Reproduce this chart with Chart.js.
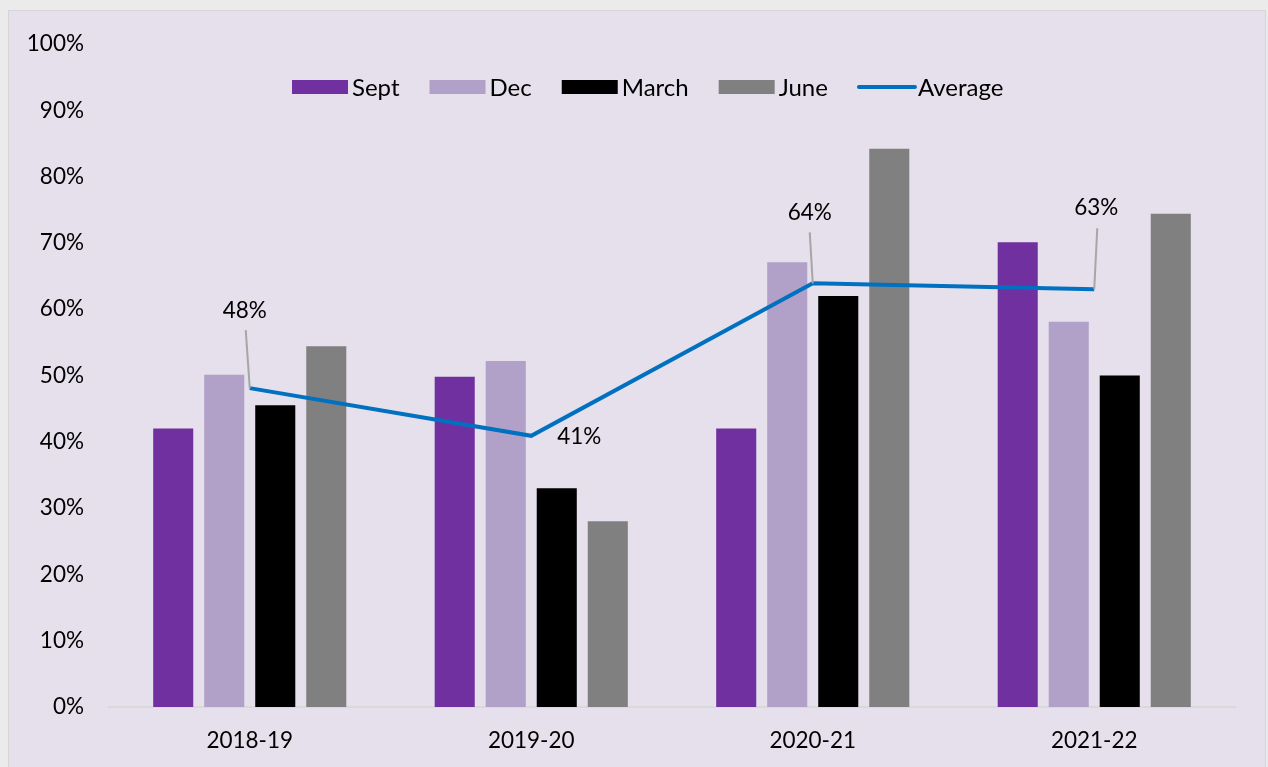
<!DOCTYPE html>
<html>
<head>
<meta charset="utf-8">
<script src="https://cdn.jsdelivr.net/npm/chart.js@4.4.1/dist/chart.umd.min.js"></script>
<style>
  html, body { margin: 0; padding: 0; background: #EBEBEB; width: 1268px; height: 767px; overflow: hidden; }
  #box { position: absolute; left: 8px; top: 10px; width: 1256px; height: 770px; background: #E5E0EC; border: 1px solid #D6D6D6; }
  #wrap { position: absolute; left: 0; top: 0; width: 1268px; height: 767px; }
</style>
</head>
<body>
<div id="box"></div>
<div id="wrap"><canvas id="c" width="1268" height="767"></canvas></div>
<script>
const categories = ['2018-19', '2019-20', '2020-21', '2021-22'];
const septValues = [42.0, 49.8, 42.0, 70.1];
const decValues = [50.1, 52.2, 67.1, 58.1];
const marchValues = [45.5, 33.0, 62.0, 50.0];
const juneValues = [54.4, 28.0, 84.2, 74.4];
const averageValues = [48.1, 40.9, 63.9, 63.0];
const averageLabels = ['48%', '41%', '64%', '63%'];
const yTicks = [0, 10, 20, 30, 40, 50, 60, 70, 80, 90, 100];

const FONT = 'Lato, "Open Sans", sans-serif';

const legendPlugin = {
  id: 'customLegend',
  afterDraw(chart, args, opts) {
    const ctx = chart.ctx;
    ctx.save();
    ctx.font = opts.fontSize + 'px ' + FONT;
    ctx.textBaseline = 'middle';
    ctx.textAlign = 'left';
    let x = opts.x;
    const y = opts.y;
    chart.data.datasets.forEach(ds => {
      if (ds.type === 'line') {
        ctx.strokeStyle = ds.borderColor;
        ctx.lineWidth = ds.borderWidth;
        ctx.lineCap = 'round';
        ctx.beginPath();
        ctx.moveTo(x + 1, y);
        ctx.lineTo(x + opts.boxWidth + 1, y);
        ctx.stroke();
      } else {
        ctx.fillStyle = ds.backgroundColor;
        ctx.fillRect(x, y - opts.boxHeight / 2, opts.boxWidth, opts.boxHeight);
      }
      x += opts.boxWidth + opts.textGap;
      ctx.fillStyle = '#000';
      ctx.fillText(ds.label, x, y + 1);
      x += ctx.measureText(ds.label).width + opts.itemGap;
    });
    ctx.restore();
  }
};

const avgLabelPlugin = {
  id: 'avgLabels',
  afterDatasetsDraw(chart, args, opts) {
    const idx = chart.data.datasets.findIndex(d => d.type === 'line');
    const meta = chart.getDatasetMeta(idx);
    const ctx = chart.ctx;
    ctx.save();
    ctx.font = opts.fontSize + 'px ' + FONT;
    ctx.textAlign = 'center';
    ctx.textBaseline = 'middle';
    meta.data.forEach((pt, i) => {
      const o = opts.offsets[i];
      if (o.leader) {
        ctx.strokeStyle = '#A6A6A6';
        ctx.lineWidth = 2;
        ctx.beginPath();
        ctx.moveTo(pt.x + o.leader[0], pt.y + o.leader[1]);
        ctx.lineTo(pt.x, pt.y);
        ctx.stroke();
      }
      ctx.fillStyle = '#000';
      ctx.fillText(averageLabels[i], pt.x + o.dx, pt.y + o.dy);
    });
    ctx.restore();
  }
};

new Chart(document.getElementById('c'), {
  type: 'bar',
  data: {
    labels: categories,
    datasets: [
      { label: 'Sept', data: septValues, backgroundColor: '#7030A0', order: 2 },
      { label: 'Dec', data: decValues, backgroundColor: '#B1A0C7', order: 2 },
      { label: 'March', data: marchValues, backgroundColor: '#000000', order: 2 },
      { label: 'June', data: juneValues, backgroundColor: '#808080', order: 2 },
      { type: 'line', label: 'Average', data: averageValues, borderColor: '#0070C0', backgroundColor: '#0070C0',
        borderWidth: 4, pointRadius: 0, tension: 0, fill: false, order: 1 }
    ]
  },
  options: {
    responsive: false,
    animation: false,
    events: [],
    layout: { padding: { left: 0, right: 33, top: 44, bottom: 0 } },
    datasets: { bar: { barPercentage: 0.785, categoryPercentage: 0.725 } },
    scales: {
      x: {
        grid: { display: false, drawTicks: false },
        border: { display: true, color: '#D9D9D9', width: 2 },
        ticks: { color: '#000', font: { family: FONT, size: 22.5 }, padding: 20 },
        afterFit(s) { s.height = 60; }
      },
      y: {
        min: 0, max: 100,
        afterBuildTicks(s) { s.ticks = yTicks.map(v => ({ value: v })); },
        grid: { display: false, drawTicks: false },
        border: { display: false },
        ticks: { color: '#000', font: { family: FONT, size: 22.5 }, padding: 25, callback: v => v + '%' },
        afterFit(s) { s.width = 109; }
      }
    },
    plugins: {
      legend: { display: false },
      tooltip: { enabled: false },
      customLegend: { x: 292, y: 87, boxWidth: 56, boxHeight: 14, textGap: 4, itemGap: 30, fontSize: 24 },
      avgLabels: {
        fontSize: 22.5,
        offsets: [
          { dx: -5, dy: -77, leader: [-4, -58] },
          { dx: 48, dy: 1, leader: null },
          { dx: -3, dy: -71, leader: [-3, -51] },
          { dx: 2, dy: -82, leader: [3, -61] }
        ]
      }
    }
  },
  plugins: [legendPlugin, avgLabelPlugin]
});
</script>
</body>
</html>
